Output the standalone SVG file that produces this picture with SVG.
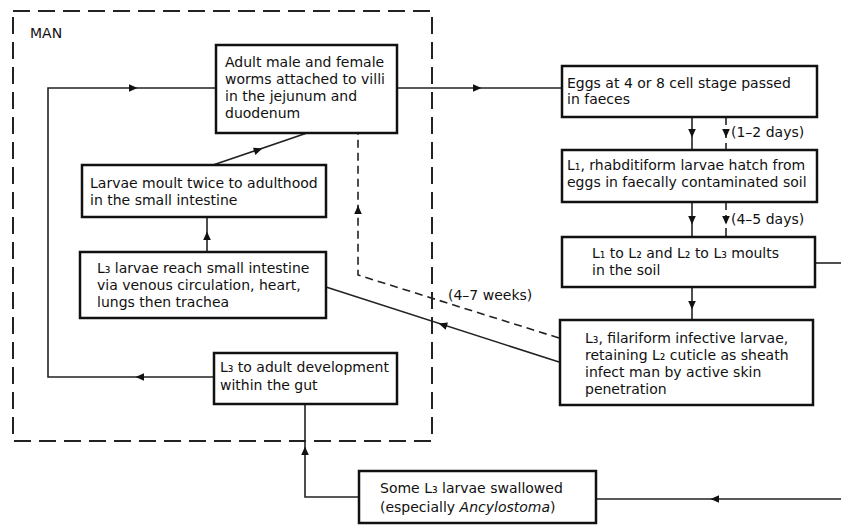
<svg xmlns="http://www.w3.org/2000/svg" xmlns:xlink="http://www.w3.org/1999/xlink" width="841" height="525" viewBox="0 0 841 525">
<style>
.bx{fill:#fff;stroke:#111;stroke-width:2.5}
.t{font-family:"DejaVu Sans","Liberation Sans",Arial,sans-serif;font-size:14px;fill:#111}
.ln{fill:none;stroke:#222;stroke-width:1.6}
.dl{fill:none;stroke:#222;stroke-width:1.6;stroke-dasharray:8,5}
.man{fill:none;stroke:#222;stroke-width:2;stroke-dasharray:17,8}
</style>
<defs>
<path id="ah" d="M4.5,0 L-4,-3.8 L-4,3.8 z" fill="#111"/>
</defs>
<rect width="841" height="525" fill="#fff"/>
<g id="man-region">
<rect class="man" x="13" y="11" width="419" height="430"/>
<text class="t" x="30" y="38" font-size="13">MAN</text>
</g>
<g id="connectors">
<path class="ln" d="M397,88 L562,88"/>
<use xlink:href="#ah" transform="translate(477,88)"/>
<path class="ln" d="M692,117 L692,150"/>
<use xlink:href="#ah" transform="translate(692,133) rotate(90)"/>
<path class="dl" d="M726,117 L726,150" stroke-dasharray="5,4"/>
<use xlink:href="#ah" transform="translate(726,133) rotate(90)"/>
<path class="ln" d="M692,202 L692,237"/>
<use xlink:href="#ah" transform="translate(692,220) rotate(90)"/>
<path class="dl" d="M726,202 L726,237" stroke-dasharray="5,4"/>
<use xlink:href="#ah" transform="translate(726,220) rotate(90)"/>
<path class="ln" d="M692,287 L692,320"/>
<use xlink:href="#ah" transform="translate(692,305) rotate(90)"/>
<path class="ln" d="M815,263 L841,263"/>
<path class="ln" d="M841,499 L596,499"/>
<use xlink:href="#ah" transform="translate(715,499) rotate(180)"/>
<path class="ln" d="M359,497 L305,497 L305,404"/>
<use xlink:href="#ah" transform="translate(305,451) rotate(-90)"/>
<path class="ln" d="M214,377 L48,377 L48,88 L216,88"/>
<use xlink:href="#ah" transform="translate(140,377) rotate(180)"/>
<use xlink:href="#ah" transform="translate(133,88)"/>
<path class="ln" d="M207,252 L207,217"/>
<use xlink:href="#ah" transform="translate(207,236) rotate(-90)"/>
<path class="ln" d="M213,165 L307,133"/>
<use xlink:href="#ah" transform="translate(258,150) rotate(-18.8)"/>
<path class="ln" d="M559,362 L326,287"/>
<use xlink:href="#ah" transform="translate(443,325) rotate(197.8)"/>
<path class="dl" d="M559,338 L358,275 L358,133"/>
<use xlink:href="#ah" transform="translate(358,210) rotate(-90)"/>
<text class="t" x="448" y="300">(4–7 weeks)</text>
<text class="t" x="731" y="137">(1–2 days)</text>
<text class="t" x="731" y="224">(4–5 days)</text>
</g>
<g id="adult-worms">
<rect class="bx" x="216" y="45" width="181" height="88"/>
<text class="t" x="225" y="67">Adult male and female</text>
<text class="t" x="225" y="84">worms attached to villi</text>
<text class="t" x="225" y="101">in the jejunum and</text>
<text class="t" x="225" y="118">duodenum</text>
</g>
<g id="larvae-moult">
<rect class="bx" x="82" y="165" width="244" height="52"/>
<text class="t" x="90" y="188">Larvae moult twice to adulthood</text>
<text class="t" x="90" y="205">in the small intestine</text>
</g>
<g id="l3-reach">
<rect class="bx" x="80" y="252" width="246" height="66"/>
<text class="t" x="97" y="273">L₃ larvae reach small intestine</text>
<text class="t" x="97" y="290">via venous circulation, heart,</text>
<text class="t" x="97" y="307">lungs then trachea</text>
</g>
<g id="l3-adult">
<rect class="bx" x="214" y="353" width="183" height="51"/>
<text class="t" x="220" y="372">L₃ to adult development</text>
<text class="t" x="220" y="390">within the gut</text>
</g>
<g id="eggs">
<rect class="bx" x="562" y="66" width="255" height="51"/>
<text class="t" x="567" y="88">Eggs at 4 or 8 cell stage passed</text>
<text class="t" x="567" y="104">in faeces</text>
</g>
<g id="l1-hatch">
<rect class="bx" x="562" y="150" width="255" height="52"/>
<text class="t" x="567" y="170">L₁, rhabditiform larvae hatch from</text>
<text class="t" x="567" y="187">eggs in faecally contaminated soil</text>
</g>
<g id="moults-soil">
<rect class="bx" x="562" y="237" width="253" height="50"/>
<text class="t" x="592" y="258">L₁ to L₂ and L₂ to L₃ moults</text>
<text class="t" x="592" y="275">in the soil</text>
</g>
<g id="filariform">
<rect class="bx" x="560" y="320" width="253" height="85"/>
<text class="t" x="585" y="343">L₃, filariform infective larvae,</text>
<text class="t" x="585" y="360">retaining L₂ cuticle as sheath</text>
<text class="t" x="585" y="377">infect man by active skin</text>
<text class="t" x="585" y="394">penetration</text>
</g>
<g id="swallowed">
<rect class="bx" x="359" y="471" width="237" height="52"/>
<text class="t" x="380" y="493">Some L₃ larvae swallowed</text>
<text class="t" x="380" y="512">(especially <tspan font-style="italic">Ancylostoma</tspan>)</text>
</g>
</svg>
